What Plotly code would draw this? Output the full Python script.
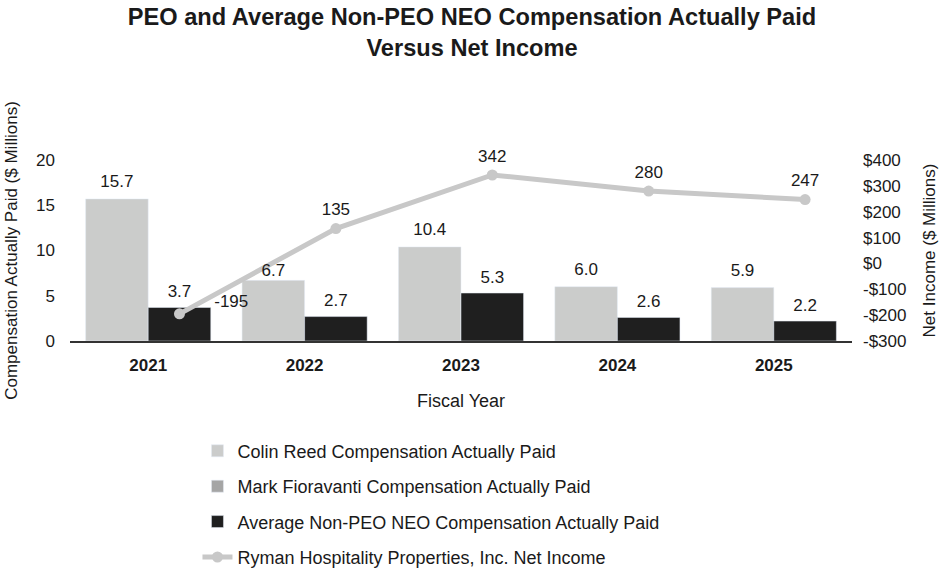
import plotly.graph_objects as go

years = ["2021", "2022", "2023", "2024", "2025"]
reed_cap = [15.7, 6.7, 10.4, 6.0, 5.9]
fioravanti_cap = []
neo_cap = [3.7, 2.7, 5.3, 2.6, 2.2]
net_income = [-195, 135, 342, 280, 247]
left_ticks = [0, 5, 10, 15, 20]
right_ticks = [-300, -200, -100, 0, 100, 200, 300, 400]

FONT = "Arial, Liberation Sans, sans-serif"
TXT = "#1a1a1a"
idx = list(range(len(years)))
BAR_W = 0.4

fig = go.Figure()
fig.add_trace(go.Bar(
    x=idx, y=reed_cap, name="Colin Reed Compensation Actually Paid",
    marker_color="#cbcccb", offset=-BAR_W, width=BAR_W, legendgroup="a"))
fig.add_trace(go.Bar(
    x=[None], y=[None], name="Mark Fioravanti Compensation Actually Paid",
    marker_color="#a5a5a5", offset=-BAR_W, width=BAR_W, legendgroup="b"))
fig.add_trace(go.Bar(
    x=idx, y=neo_cap, name="Average Non-PEO NEO Compensation Actually Paid",
    marker_color="#1f1f1f", offset=0, width=BAR_W, legendgroup="c"))
fig.add_trace(go.Scatter(
    x=[i + BAR_W / 2 for i in idx], y=net_income, yaxis="y2",
    name="Ryman Hospitality Properties, Inc. Net Income",
    mode="lines+markers", line=dict(color="#c8c8c8", width=5),
    marker=dict(color="#c8c8c8", size=11), cliponaxis=False, legendgroup="d"))

# value labels drawn on top of everything (axis y3 mirrors y, y4 mirrors y2)
# invisible markers only set the gap between each point and its label
reed_gap = [10, 0, 10, 10, 10]
fig.add_trace(go.Scatter(
    x=[i - BAR_W / 2 for i in idx], y=reed_cap, yaxis="y3", mode="markers+text",
    marker=dict(size=reed_gap, opacity=0),
    text=[f"{v:.1f}" for v in reed_cap], textposition="top center",
    textfont=dict(size=17, color=TXT, family=FONT), showlegend=False, cliponaxis=False, hoverinfo="skip"))
fig.add_trace(go.Scatter(
    x=[i + BAR_W / 2 for i in idx], y=neo_cap, yaxis="y3", mode="markers+text",
    marker=dict(size=8, opacity=0),
    text=[f"{v:.1f}" for v in neo_cap], textposition="top center",
    textfont=dict(size=17, color=TXT, family=FONT), showlegend=False, cliponaxis=False, hoverinfo="skip"))
ni_gap = [54, 13, 13, 13, 13]
fig.add_trace(go.Scatter(
    x=[i + BAR_W / 2 for i in idx], y=net_income, yaxis="y4", mode="markers+text",
    marker=dict(size=ni_gap, opacity=0),
    text=[(str(v) + "<br>\u00a0") if v < 0 else str(v) for v in net_income],
    textposition=["middle right", "top center", "top center", "top center", "top center"],
    textfont=dict(size=17, color=TXT, family=FONT), showlegend=False, cliponaxis=False, hoverinfo="skip"))

fig.update_layout(
    width=944, height=574,
    margin=dict(l=70, r=92, t=160, b=233, autoexpand=False),
    paper_bgcolor="white", plot_bgcolor="white",
    font=dict(family=FONT, color=TXT, size=17),
    barmode="overlay",
    title=dict(text="<b>PEO and Average Non-PEO NEO Compensation Actually Paid<br>Versus Net Income</b>",
               x=0.5, xanchor="center", y=0.956, yanchor="middle",
               font=dict(size=23.6, color=TXT, family=FONT)),
    xaxis=dict(range=[-0.5, 4.5], tickvals=idx, ticktext=[f"<b>{y}</b>" for y in years],
               showgrid=False, zeroline=False, showline=True, linecolor="#333333", linewidth=1.5,
               ticks="", tickfont=dict(size=17), ticklabelstandoff=8,
               title=dict(text="Fiscal Year", font=dict(size=18), standoff=20)),
    yaxis=dict(range=[0, 20], tickvals=left_ticks, showgrid=False, zeroline=False, showline=False,
               ticks="", tickfont=dict(size=17), ticklabelstandoff=14,
               title=dict(text="Compensation Actually Paid ($ Millions)", font=dict(size=17), standoff=14)),
    yaxis2=dict(range=[-300, 400], overlaying="y", side="right", tickvals=right_ticks,
                ticktext=[("-$" if v < 0 else "$") + str(abs(v)) for v in right_ticks],
                showgrid=False, zeroline=False, showline=False, ticks="",
                tickfont=dict(size=17), ticklabelstandoff=10,
                title=dict(text="Net Income ($ Millions)", font=dict(size=17), standoff=17)),
    yaxis3=dict(range=[0, 20], overlaying="y", visible=False),
    yaxis4=dict(range=[-300, 400], overlaying="y", visible=False),
    legend=dict(x=0.163, y=-0.506, xanchor="left", yanchor="top", traceorder="grouped",
                tracegroupgap=9, font=dict(size=18, color=TXT), bgcolor="rgba(0,0,0,0)"),
    showlegend=True,
)

fig.write_html("out.html", config={"displayModeBar": False},
               post_script="document.body.style.margin='0px';")
